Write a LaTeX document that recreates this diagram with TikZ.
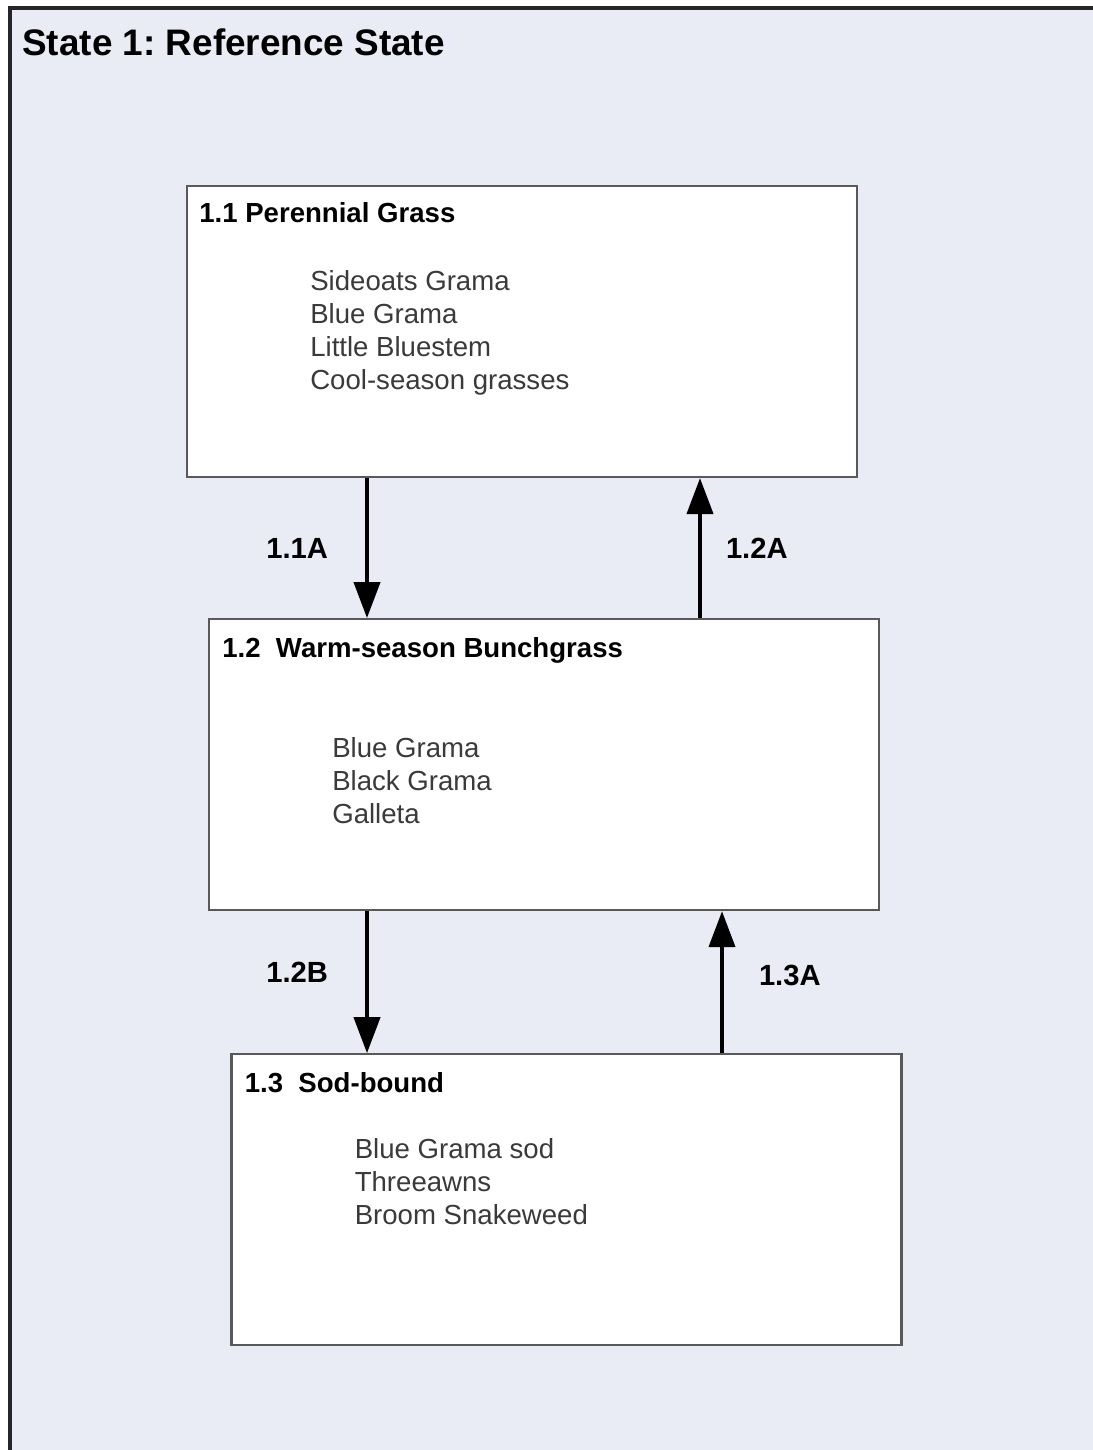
\documentclass[tikz,border=0pt]{standalone}
\usepackage{fontspec}
\setmainfont{Liberation Sans}
\usetikzlibrary{arrows.meta,positioning}
\definecolor{statebg}{HTML}{E9ECF4}
\definecolor{specgray}{HTML}{3A3A3A}
\frenchspacing

\begin{document}
\begin{tikzpicture}[node distance=2.8cm, font=\fontsize{15.7}{18.9}\selectfont]
\tikzset{
  box/.style={rectangle, draw=black!65, line width=1.2pt, fill=white, minimum width=13.4cm, minimum height=5.82cm, inner sep=0pt},
  head/.style={font=\fontsize{15.7}{18.9}\selectfont\bfseries, inner sep=0pt, anchor=base west},
  spec/.style={text=specgray, align=left, inner sep=0pt, anchor=north west},
  arr/.style={-{Triangle[length=0.72cm, width=0.52cm]}, line width=2.3pt},
  lbl/.style={font=\fontsize{16.6}{20}\selectfont\bfseries, inner sep=0pt},
}
\clip (0,0) rectangle (21.86,-29);
\draw[fill=statebg, draw=black!85, line width=2.3pt] (0.2,-0.16) rectangle (23,-30);
\node[anchor=west, font=\fontsize{21}{25}\selectfont\bfseries, inner sep=0pt] (title) at (0.44,-0.84) {State 1: Reference State};

\node[box] (s11) at (10.44,-6.63) {};
\node[box, below=of s11, xshift=0.44cm] (s12) {};
\node[box, below=2.84cm of s12, xshift=0.45cm] (s13) {};

\node[head] (h11) at ([xshift=0.26cm, yshift=-0.76cm]s11.north west) {1.1 Perennial Grass};
\node[head] (h12) at ([xshift=0.28cm, yshift=-0.78cm]s12.north west) {1.2\ \ Warm-season Bunchgrass};
\node[head] (h13) at ([xshift=0.28cm, yshift=-0.78cm]s13.north west) {1.3\ \ Sod-bound};

\node[spec] (p11) at ([xshift=2.48cm, yshift=-1.7cm]s11.north west) {Sideoats Grama\\Blue Grama\\Little Bluestem\\Cool-season grasses};
\node[spec] (p12) at ([xshift=2.48cm, yshift=-2.38cm]s12.north west) {Blue Grama\\Black Grama\\Galleta};
\node[spec] (p13) at ([xshift=2.48cm, yshift=-1.7cm]s13.north west) {Blue Grama sod\\Threeawns\\Broom Snakeweed};

\draw[arr] ([xshift=-3.1cm]s11.south) -- ([xshift=-3.1cm]s11.south |- s12.north) node[lbl, midway, left=0.74cm] {1.1A};
\draw[arr] ([xshift=3.12cm]s12.north) -- ([xshift=3.12cm]s12.north |- s11.south) node[lbl, midway, right=0.48cm] {1.2A};
\draw[arr] ([xshift=-3.54cm]s12.south) -- ([xshift=-3.54cm]s12.south |- s13.north) node[lbl, pos=0.43, left=0.74cm] {1.2B};
\draw[arr] ([xshift=3.11cm]s13.north) -- ([xshift=3.11cm]s13.north |- s12.south) node[lbl, pos=0.55, right=0.7cm] {1.3A};
\end{tikzpicture}
\end{document}
